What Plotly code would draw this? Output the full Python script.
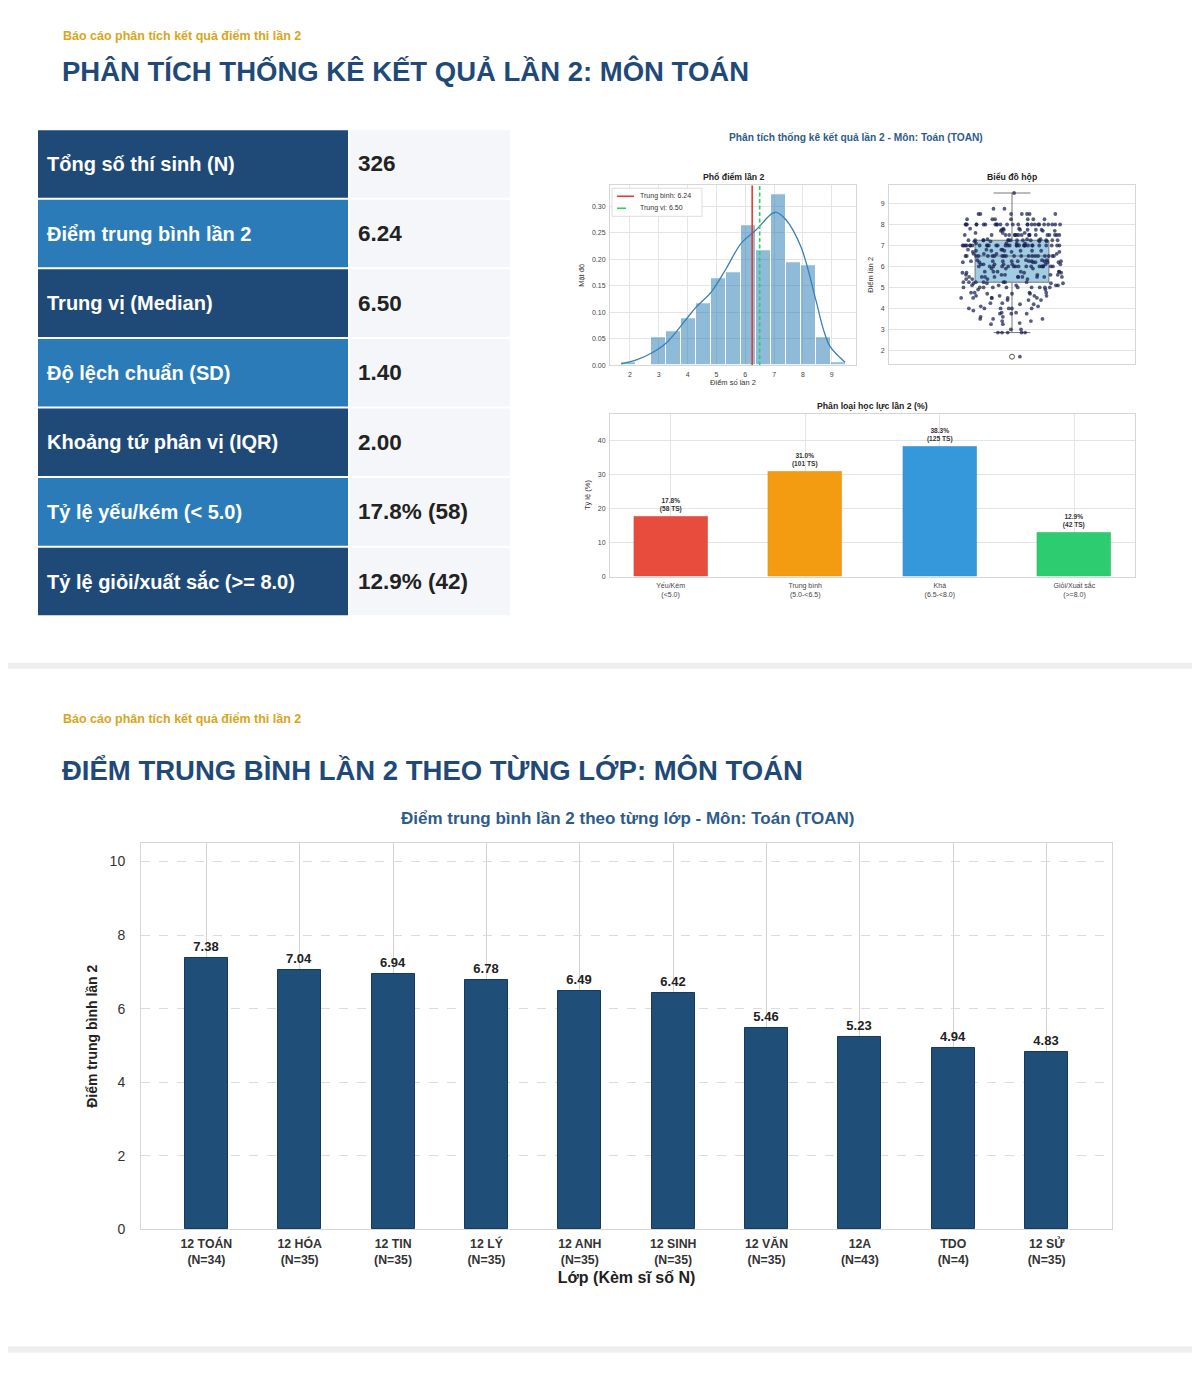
import numpy as np
import plotly.graph_objects as go

# ---------------- DATA ----------------
report_subtitle = "Báo cáo phân tích kết quả điểm thi lần 2"
title_top = "PHÂN TÍCH THỐNG KÊ KẾT QUẢ LẦN 2: MÔN TOÁN"
title_bottom = "ĐIỂM TRUNG BÌNH LẦN 2 THEO TỪNG LỚP: MÔN TOÁN"

table_labels = ["Tổng số thí sinh (N)", "Điểm trung bình lần 2", "Trung vị (Median)",
                "Độ lệch chuẩn (SD)", "Khoảng tứ phân vị (IQR)", "Tỷ lệ yếu/kém (< 5.0)",
                "Tỷ lệ giỏi/xuất sắc (>= 8.0)"]
table_values = ["326", "6.24", "6.50", "1.40", "2.00", "17.8% (58)", "12.9% (42)"]

# individual scores (value, how many students)
score_values = [1.7,
                2.85, 3.0, 3.25,
                3.3, 3.4, 3.5, 3.6, 3.75,
                3.8, 3.9, 4.0, 4.1, 4.2, 4.25,
                4.4, 4.5, 4.6, 4.7, 4.75,
                4.9, 5.0, 5.1, 5.2, 5.25,
                5.4, 5.5, 5.6, 5.7, 5.75,
                5.9, 6.0, 6.1, 6.2, 6.25, 6.3,
                6.5, 6.6, 6.7, 6.75, 6.8,
                7.0, 7.1, 7.2, 7.25, 7.3,
                7.5, 7.6, 7.7, 7.75, 7.8,
                8.0, 8.25,
                8.5, 8.75,
                9.5]
score_counts = [1,
                5, 2, 2,
                1, 2, 3, 2, 3,
                2, 1, 6, 2, 2, 2,
                3, 6, 4, 3, 4,
                2, 10, 5, 4, 7,
                4, 10, 6, 4, 6,
                3, 16, 7, 6, 9, 4,
                20, 4, 3, 6, 4,
                30, 4, 4, 14, 3,
                18, 3, 3, 6, 3,
                25, 7,
                7, 2,
                1]
scores = np.repeat(score_values, score_counts)

mean_score = 6.24
median_score = 6.50

# KDE curve
kde_x = [1.70, 2.25, 2.77, 3.27, 3.95, 4.28, 4.81, 5.33, 5.85, 6.38, 6.89, 7.07, 7.41, 7.93, 8.44, 8.71, 8.94, 9.46]
kde_y = [0.003, 0.011, 0.024, 0.043, 0.087, 0.109, 0.138, 0.182, 0.230, 0.256, 0.285, 0.289, 0.275, 0.224, 0.125, 0.068, 0.036, 0.006]

# box-plot statistics
box_q1 = [5.25]
box_median = [6.50]
box_q3 = [7.25]
box_lower = [2.85]
box_upper = [9.5]
box_outliers = [1.7]

# classification
class_labels = ["Yếu/Kém<br>(<5.0)", "Trung bình<br>(5.0-<6.5)", "Khá<br>(6.5-<8.0)", "Giỏi/Xuất sắc<br>(>=8.0)"]
class_pct = [17.8, 31.0, 38.3, 12.9]
class_n = [58, 101, 125, 42]
class_colors = ["#e74c3c", "#f39c12", "#3498db", "#2ecc71"]

# class averages
classes = ["12 TOÁN", "12 HÓA", "12 TIN", "12 LÝ", "12 ANH", "12 SINH", "12 VĂN", "12A", "TDO", "12 SỬ"]
class_sizes = [34, 35, 35, 35, 35, 35, 35, 43, 4, 35]
class_means = [7.38, 7.04, 6.94, 6.78, 6.49, 6.42, 5.46, 5.23, 4.94, 4.83]

# ---------------- HELPERS ----------------
OFF = 8                      # page body margin
S = 0.993                    # vertical compensation of the screenshot
W, H = 1200 - OFF, 1376 - 2 * OFF
def X(px): return (px - OFF) / W
def Y(py): return 1 - (py / S - OFF) / H

FONT = "Liberation Sans, Arial, sans-serif"
DARK = "#1f4a78"
LIGHT = "#2a7bb8"
GOLD = "#d9a520"
GRID = "#e4e4e4"
SPINE = "#d6d6d6"
TICK = "#444444"
MEAN_C = "#e03c31"
MED_C = "#2ecc71"

fig = go.Figure()

# ---------------- HISTOGRAM ----------------
fig.add_trace(go.Histogram(
    x=scores, xbins=dict(start=1.695, end=9.6, size=0.521), histnorm="probability density",
    marker=dict(color="rgba(31,119,180,0.5)", line=dict(color="white", width=1)),
    showlegend=False, xaxis="x", yaxis="y"))
fig.add_trace(go.Scatter(x=kde_x, y=kde_y, mode="lines", line=dict(color="#3a7fb5", width=1.3, shape="spline"),
                         showlegend=False, xaxis="x", yaxis="y"))
fig.add_trace(go.Scatter(x=[mean_score, mean_score], y=[0, 0.34], mode="lines",
                         line=dict(color=MEAN_C, width=1.6), showlegend=False, xaxis="x", yaxis="y"))
fig.add_trace(go.Scatter(x=[median_score, median_score], y=[0, 0.34], mode="lines",
                         line=dict(color=MED_C, width=1.6, dash="4px,2.5px"), showlegend=False,
                         xaxis="x", yaxis="y"))

# ---------------- BOX PLOT ----------------
fig.add_trace(go.Box(x=[0], q1=box_q1, median=box_median, q3=box_q3, lowerfence=box_lower,
                     upperfence=box_upper, width=0.3, whiskerwidth=0.5, boxpoints=False,
                     fillcolor="rgba(150,200,222,0.9)", line=dict(color="#777777", width=1),
                     showlegend=False, xaxis="x2", yaxis="y2"))
fig.add_trace(go.Box(y=scores, x0=0, width=0.42, boxpoints="all", jitter=1, pointpos=0,
                     fillcolor="rgba(0,0,0,0)", line=dict(color="rgba(0,0,0,0)", width=0),
                     marker=dict(color="rgba(22,30,80,0.72)", size=3.8),
                     showlegend=False, xaxis="x2", yaxis="y2"))
fig.add_trace(go.Scatter(x=[0] * len(box_outliers), y=box_outliers, mode="markers",
                         marker=dict(symbol="circle-open", color="#555555", size=5, line=dict(width=1)),
                         showlegend=False, xaxis="x2", yaxis="y2"))

# ---------------- CLASSIFICATION BARS ----------------
fig.add_trace(go.Bar(x=list(range(len(class_pct))), y=class_pct, width=0.55,
                     marker=dict(color=class_colors, line=dict(color="rgba(0,0,0,0.15)", width=0.5)),
                     text=[f"<b>{p:.1f}%<br>({n} TS)</b>" for p, n in zip(class_pct, class_n)],
                     textposition="outside", textfont=dict(size=6.6, color="#333333"),
                     cliponaxis=False, showlegend=False, xaxis="x3", yaxis="y3"))

# ---------------- CLASS MEANS ----------------
fig.add_trace(go.Bar(x=list(range(len(class_means))), y=class_means, width=0.46,
                     marker=dict(color="#1f4e79", line=dict(color="#173a5c", width=1)),
                     text=[f"<b>{v:.2f}</b>" for v in class_means], textposition="outside",
                     textfont=dict(size=13, color="#222222"), cliponaxis=False,
                     showlegend=False, xaxis="x4", yaxis="y4"))

small_axis = dict(showline=True, linecolor=SPINE, mirror=True, gridcolor=GRID, gridwidth=0.8,
                  zeroline=False, tickfont=dict(size=7, color=TICK), ticks="", ticklabelstandoff=2)

fig.update_layout(
    width=W, height=H, margin=dict(l=0, r=0, t=0, b=0),
    paper_bgcolor="white", plot_bgcolor="white", font=dict(family=FONT),
    bargap=0, barmode="overlay", showlegend=False,
    xaxis=dict(domain=[X(610), X(856)], anchor="y", range=[1.31, 9.84], tickvals=list(range(2, 10)),
               title=dict(text="Điểm số lần 2", font=dict(size=7.5, color="#333"), standoff=1), **small_axis),
    yaxis=dict(domain=[Y(365), Y(185)], anchor="x", range=[0, 0.34], tickvals=[0, 0.05, 0.1, 0.15, 0.2, 0.25, 0.3],
               tickformat=".2f", title=dict(text="Mật độ", font=dict(size=7.5, color="#333"), standoff=6), **small_axis),
    xaxis2=dict(domain=[X(889), X(1135)], anchor="y2", range=[-0.5, 0.5], showticklabels=False,
                showgrid=False, **{k: v for k, v in small_axis.items() if k != "gridcolor"}),
    yaxis2=dict(domain=[Y(364), Y(185)], anchor="x2", range=[1.33, 9.87], tickvals=list(range(2, 10)),
                title=dict(text="Điểm lần 2", font=dict(size=7.5, color="#333"), standoff=6), **small_axis),
    xaxis3=dict(domain=[X(610), X(1135)], anchor="y3", range=[-0.45, 3.45], tickvals=list(range(4)),
                ticktext=class_labels, **small_axis),
    yaxis3=dict(domain=[Y(576), Y(413)], anchor="x3", range=[0, 47.9], tickvals=[0, 10, 20, 30, 40],
                title=dict(text="Tỷ lệ (%)", font=dict(size=7.5, color="#333"), standoff=6), **small_axis),
    xaxis4=dict(domain=[X(141), X(1112)], anchor="y4", range=[-0.7, 9.7], tickvals=list(range(len(classes))),
                ticktext=[f"<b>{c}<br>(N={n})</b>" for c, n in zip(classes, class_sizes)],
                tickfont=dict(size=12.3, color="#333"), showline=True, linecolor=SPINE, mirror=True,
                showgrid=True, gridcolor="#d2d2d2", gridwidth=1, zeroline=False, ticks="", ticklabelstandoff=3,
                title=dict(text="<b>Lớp (Kèm sĩ số N)</b>", font=dict(size=16, color="#222"), standoff=5)),
    yaxis4=dict(domain=[Y(1228), Y(842)], anchor="x4", range=[0, 10.5], tickvals=[0, 2, 4, 6, 8, 10],
                tickfont=dict(size=14, color="#333"), showline=True, linecolor=SPINE, mirror=True,
                showgrid=True, gridcolor="#dcdcdc", griddash="dash", gridwidth=1, zeroline=False,
                ticks="", ticklabelstandoff=12,
                title=dict(text="<b>Điểm trung bình lần 2</b>", font=dict(size=14, color="#222"), standoff=8)),
)

shapes = []
annotations = []

# separators
shapes.append(dict(type="rect", xref="paper", yref="paper", x0=-0.01, x1=1.01, y0=Y(668), y1=Y(662),
                   fillcolor="#eeeeee", line=dict(width=0), layer="below"))
shapes.append(dict(type="rect", xref="paper", yref="paper", x0=-0.01, x1=1.01, y0=Y(1351), y1=Y(1345),
                   fillcolor="#eeeeee", line=dict(width=0), layer="below"))

# headers
for sub_y, title_y, title in [(36, 71, title_top), (718, 769, title_bottom)]:
    annotations.append(dict(xref="paper", yref="paper", x=X(61), y=Y(sub_y), xanchor="left", yanchor="middle",
                            text=f"<b>{report_subtitle}</b>", showarrow=False,
                            font=dict(size=12.5, color=GOLD)))
    annotations.append(dict(xref="paper", yref="paper", x=X(60), y=Y(title_y), xanchor="left", yanchor="middle",
                            text=f"<b>{title}</b>", showarrow=False,
                            font=dict(size=27.5, color=DARK)))

# table
row_top, pitch, cell_h = 130, 69.5, 67.5
for i, (lab, val) in enumerate(zip(table_labels, table_values)):
    t = row_top + i * pitch
    b = t + cell_h
    shapes.append(dict(type="rect", xref="paper", yref="paper", x0=X(38), x1=X(348), y0=Y(b), y1=Y(t),
                       fillcolor=DARK if i % 2 == 0 else LIGHT, line=dict(width=0), layer="below"))
    shapes.append(dict(type="rect", xref="paper", yref="paper", x0=X(350), x1=X(510), y0=Y(b), y1=Y(t),
                       fillcolor="#f4f6f9", line=dict(width=0), layer="below"))
    annotations.append(dict(xref="paper", yref="paper", x=X(45), y=Y((t + b) / 2), xanchor="left",
                            yanchor="middle", text=f"<b>{lab}</b>", showarrow=False,
                            font=dict(size=20, color="white")))
    annotations.append(dict(xref="paper", yref="paper", x=X(356), y=Y((t + b) / 2), xanchor="left",
                            yanchor="middle", text=f"<b>{val}</b>", showarrow=False,
                            font=dict(size=22.5, color="#222222")))

# histogram legend (drawn by hand, matplotlib style)
shapes.append(dict(type="rect", xref="paper", yref="paper", x0=X(612), x1=X(702), y0=Y(216), y1=Y(188),
                   fillcolor="rgba(255,255,255,0.9)", line=dict(color="#dddddd", width=1)))
for ly, col, dash, txt in [(196, MEAN_C, "solid", f"Trung bình: {mean_score:.2f}"),
                           (208, MED_C, "dash", f"Trung vị: {median_score:.2f}")]:
    shapes.append(dict(type="line", xref="paper", yref="paper", x0=X(617), x1=X(634), y0=Y(ly), y1=Y(ly),
                       line=dict(color=col, width=1.6, dash=dash)))
    annotations.append(dict(xref="paper", yref="paper", x=X(638), y=Y(ly), xanchor="left", yanchor="middle",
                            text=txt, showarrow=False, font=dict(size=7, color="#333")))

# matplotlib-figure titles
annotations.append(dict(xref="paper", yref="paper", x=X(856), y=Y(137), xanchor="center", yanchor="middle",
                        text="<b>Phân tích thống kê kết quả lần 2 - Môn: Toán (TOAN)</b>", showarrow=False,
                        font=dict(size=10.2, color="#2e5c8a")))
for tx, ty, tt in [(733, 177, "Phổ điểm lần 2"), (1012, 177, "Biểu đồ hộp"), (872, 405, "Phân loại học lực lần 2 (%)")]:
    annotations.append(dict(xref="paper", yref="paper", x=X(tx), y=Y(ty), xanchor="center", yanchor="middle",
                            text=f"<b>{tt}</b>", showarrow=False, font=dict(size=8.7, color="#222")))

annotations.append(dict(xref="paper", yref="paper", x=X(627), y=Y(818), xanchor="center", yanchor="middle",
                        text="<b>Điểm trung bình lần 2 theo từng lớp - Môn: Toán (TOAN)</b>", showarrow=False,
                        font=dict(size=17, color="#2e5c8a")))

fig.update_layout(shapes=shapes, annotations=annotations)
fig.write_html("out.html")
